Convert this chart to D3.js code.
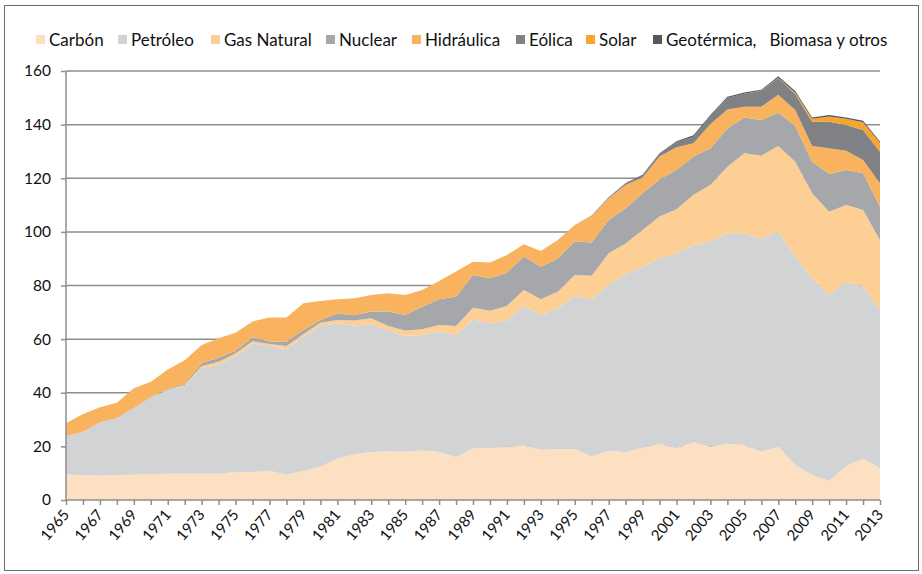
<!DOCTYPE html>
<html><head><meta charset="utf-8">
<script src="https://cdn.jsdelivr.net/npm/d3@7"></script>
<style>
html,body{margin:0;padding:0;background:#fff;}
svg{display:block;font-family:Lato, "Open Sans", sans-serif;}
</style></head>
<body>
<svg id="chart" width="922" height="574"></svg>
<script>
const years = [1965,1966,1967,1968,1969,1970,1971,1972,1973,1974,1975,1976,1977,1978,1979,1980,1981,1982,1983,1984,1985,1986,1987,1988,1989,1990,1991,1992,1993,1994,1995,1996,1997,1998,1999,2000,2001,2002,2003,2004,2005,2006,2007,2008,2009,2010,2011,2012,2013];
const seriesNames = ["Carbón","Petróleo","Gas Natural","Nuclear","Hidráulica","Eólica","Solar","Geotérmica,   Biomasa y otros"];
const carbon   = [9.6,9.2,9.1,9.3,9.4,9.6,9.8,9.8,9.8,9.8,10.4,10.4,10.9,9.4,10.9,12.4,15.5,17.0,17.9,18.2,18.0,18.5,17.9,15.9,19.3,19.3,19.9,20.3,18.7,18.9,19.0,16.2,18.4,17.8,19.5,20.9,19.3,21.5,19.9,21.0,20.5,18.0,19.9,13.1,9.3,7.1,12.7,15.5,11.8];
const petroleo = [14.3,16.3,19.9,21.2,24.8,28.7,31.2,32.7,39.3,40.6,43.1,48.0,46.5,46.8,50.0,52.5,50.4,48.0,47.7,45.0,43.2,43.0,44.9,45.6,48.1,46.6,47.0,52.1,50.3,52.6,57.1,58.7,61.8,66.6,67.5,69.2,72.7,73.6,76.5,78.5,79.0,79.4,80.2,77.7,73.4,69.4,68.7,64.1,59.1];
const gas      = [0,0,0,0,0,0,0,0.4,0.9,1.2,1.2,0.8,0.8,1.2,1.0,1.2,1.2,1.9,2.2,1.7,2.0,2.2,2.5,3.4,4.3,4.7,5.5,5.9,5.9,6.2,7.8,8.7,11.8,11.3,13.7,15.6,16.4,18.7,21.1,24.8,29.8,31.0,31.9,35.4,31.7,31.0,28.6,28.6,26.1];
const nuclear  = [0,0,0,0,0.2,0.2,0.3,0.5,1.0,1.5,1.0,1.5,0.9,1.7,1.5,1.0,2.5,2.0,2.5,5.4,5.8,8.4,9.6,10.9,12.2,12.1,12.4,12.5,12.1,12.4,12.5,12.4,12.4,13.1,13.7,13.9,14.7,14.3,13.7,14.3,13.4,13.3,12.5,13.3,11.8,14.1,13.1,13.7,12.4];
const hidraulica = [4.7,6.6,5.6,5.8,7.3,5.6,7.4,8.7,6.8,7.2,6.7,5.9,9.0,9.0,10.0,7.1,5.3,6.3,6.2,6.8,7.5,6.2,6.8,9.4,5.0,5.9,6.6,4.6,5.9,6.9,6.2,9.9,8.1,8.7,5.9,8.5,8.5,5.0,9.0,7.0,4.0,5.0,6.6,6.0,5.8,9.6,7.2,4.9,8.7];
const eolica   = [0,0,0,0,0,0,0,0,0,0,0,0,0,0,0,0,0,0,0,0,0,0,0,0,0,0,0,0,0,0,0,0.1,0.2,0.5,0.7,0.9,1.8,2.4,2.9,4.3,4.8,5.8,6.3,5.9,9.1,9.9,9.6,11.2,11.8];
const solar    = [0,0,0,0,0,0,0,0,0,0,0,0,0,0,0,0,0,0,0,0,0,0,0,0,0,0,0,0,0,0,0,0,0,0,0,0,0,0,0,0,0,0.1,0.1,0.5,1.1,1.9,2.3,2.9,3.3];
const geotermica = [0,0,0,0,0,0,0,0,0,0,0,0,0,0,0,0,0,0,0,0,0,0,0,0,0,0,0,0,0,0,0,0.1,0.2,0.2,0.3,0.3,0.4,0.5,0.5,0.5,0.5,0.4,0.5,0.6,0.5,0.6,0.5,0.5,0.5];
const yTicks = [0,20,40,60,80,100,120,140,160];
const xLabelYears = [1965,1967,1969,1971,1973,1975,1977,1979,1981,1983,1985,1987,1989,1991,1993,1995,1997,1999,2001,2003,2005,2007,2009,2011,2013];
const colors = ["#FDE0C1","#D2D3D5","#FDCF95","#A6A7AA","#F9B35F","#808184","#F6A531","#58585A"];

const seriesData = [carbon,petroleo,gas,nuclear,hidraulica,eolica,solar,geotermica];
const rows = years.map((yr,i)=>{
  const r = {year:yr};
  seriesNames.forEach((n,k)=>{ r[n] = seriesData[k][i]; });
  return r;
});

const svg = d3.select("#chart");
svg.append("rect").attr("x",4.5).attr("y",5.5).attr("width",914).attr("height",565)
  .attr("fill","none").attr("stroke","#6b6b6b").attr("stroke-width",1);

const x = d3.scaleLinear().domain([1965,2013]).range([66,880]);
const y = d3.scaleLinear().domain([0,160]).range([500,71]);

// gridlines
svg.append("g").selectAll("line").data(yTicks.filter(d=>d>0)).join("line")
  .attr("x1",66).attr("x2",880).attr("y1",d=>y(d)).attr("y2",d=>y(d))
  .attr("stroke","#8e8e8e").attr("stroke-width",1.5);

const stack = d3.stack().keys(seriesNames);
const layers = stack(rows);
const area = d3.area().x(d=>x(d.data.year)).y0(d=>y(d[0])).y1(d=>y(d[1]));
svg.append("g").selectAll("path").data(layers).join("path")
  .attr("d",area).attr("fill",(d,i)=>colors[i]);

// y axis
const yAxis = d3.axisLeft(y).tickValues(yTicks).tickSize(5).tickPadding(10).tickFormat(d3.format("d"));
const gy = svg.append("g").attr("transform","translate(66,0)").call(yAxis);
gy.selectAll("path,line").attr("stroke","#8e8e8e").attr("stroke-width",1.5);
gy.select(".domain").attr("d","M0,71V500");
gy.selectAll("text").attr("font-family","Lato").attr("font-size",15.5).attr("fill","#111");

// x axis
const xAxis = d3.axisBottom(x).tickValues(years).tickSize(5).tickFormat("");
const gx = svg.append("g").attr("transform","translate(0,500)").call(xAxis);
gx.selectAll("path,line").attr("stroke","#8e8e8e").attr("stroke-width",1.5);
gx.select(".domain").attr("d","M66,0H880");

svg.append("g").selectAll("text").data(xLabelYears).join("text")
  .attr("transform",d=>`translate(${x(d)+4},${515}) rotate(-50)`)
  .attr("text-anchor","end").attr("font-family","Lato").attr("font-size",15).attr("fill","#111")
  .text(d=>d);

// legend
const legendX = [36,118,211,326,412,516,586,653];
const lg = svg.append("g");
seriesNames.forEach((n,i)=>{
  lg.append("rect").attr("x",legendX[i]).attr("y",35).attr("width",9).attr("height",9).attr("fill",colors[i]);
  lg.append("text").attr("x",legendX[i]+13).attr("y",46).attr("font-family","Lato").attr("font-size",17)
    .attr("fill","#111").style("white-space","pre").text(n);
});
</script>
</body></html>
